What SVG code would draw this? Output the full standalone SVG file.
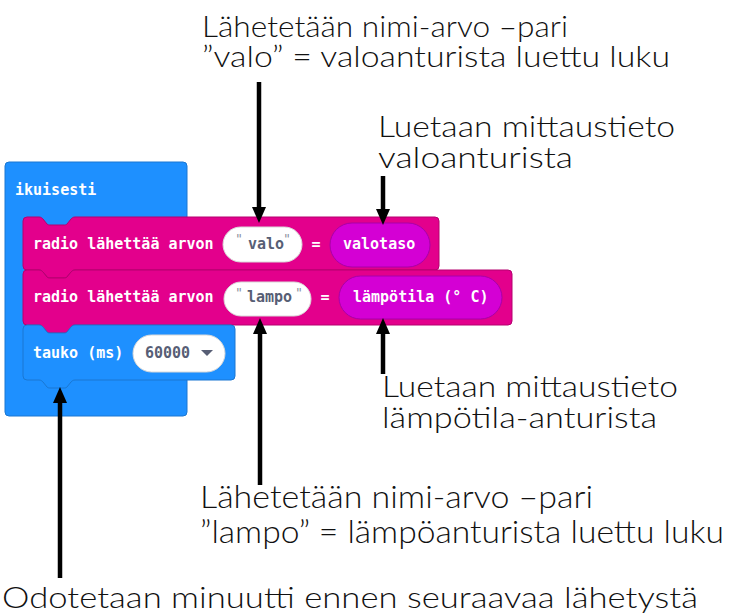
<svg xmlns="http://www.w3.org/2000/svg" width="730" height="615" viewBox="0 0 730 615">
  <style>
    .blk { font-family: "DejaVu Sans Mono", "Liberation Mono", monospace; font-weight: bold; font-size: 15px; fill: #ffffff; }
    .str { font-family: "DejaVu Sans Mono", "Liberation Mono", monospace; font-weight: bold; font-size: 15px; fill: #575E75; }
    .q { font-family: "DejaVu Sans", sans-serif; font-size: 13px; fill: #8a8f9e; }
    .ann { font-family: "Lato", "Open Sans", sans-serif; font-weight: 300; font-size: 30px; fill: #111111; }
    .blue { fill: #1E90FF; stroke: #1a77d2; stroke-width: 1; }
    .pink { fill: #E3008C; stroke: #b5006f; stroke-width: 1; }
    .val { fill: #D400D4; stroke: #a800a8; stroke-width: 1; }
    .pill { fill: #ffffff; stroke: #d8d8d8; stroke-width: 1; }
    .arr { stroke: #000000; stroke-width: 4.5; fill: none; marker-end: url(#ah); }
  </style>
  <defs>
    <marker id="ah" markerUnits="userSpaceOnUse" viewBox="0 0 16 14" markerWidth="16" markerHeight="14" refX="1" refY="7" orient="auto">
      <path d="M0,0 L16,7 L0,14 Z" fill="#000000"/>
    </marker>
  </defs>

  <g id="ikuisesti">
    <rect class="blue" x="5" y="162" width="182" height="254" rx="4"/>
    <text class="blk" x="15" y="195">ikuisesti</text>
  </g>

  <g id="radio-valo">
    <path class="pink" d="M23,221 a4,4 0 0 1 4,-4 H39 c2,0 3,1 4,2 l4,5 c1,1 2,1 4,1 h12 c2,0 3,0 4,-1 l4,-5 c1,-1 2,-2 4,-2 H435 a4,4 0 0 1 4,4 V266 a4,4 0 0 1 -4,4 H75 c-2,0 -3,1 -4,2 l-4,5 c-1,1 -2,1 -4,1 h-12 c-2,0 -3,0 -4,-1 l-4,-5 c-1,-1 -2,-2 -4,-2 H27 a4,4 0 0 1 -4,-4 Z"/>
    <text class="blk" x="33" y="249">radio lähettää arvon</text>
    <rect class="pill" x="223" y="227" width="79" height="35" rx="17.5"/>
    <text class="q" x="236" y="243">"</text>
    <text class="str" x="248" y="249">valo</text>
    <text class="q" x="284" y="243">"</text>
    <text class="blk" x="316" y="249" text-anchor="middle">=</text>
    <rect class="val" x="330" y="223" width="100" height="44" rx="22"/>
    <text class="blk" x="343" y="249">valotaso</text>
  </g>

  <g id="radio-lampo">
    <path class="pink" d="M23,274 a4,4 0 0 1 4,-4 H39 c2,0 3,1 4,2 l4,5 c1,1 2,1 4,1 h12 c2,0 3,0 4,-1 l4,-5 c1,-1 2,-2 4,-2 H508 a4,4 0 0 1 4,4 V321 a4,4 0 0 1 -4,4 H75 c-2,0 -3,1 -4,2 l-4,5 c-1,1 -2,1 -4,1 h-12 c-2,0 -3,0 -4,-1 l-4,-5 c-1,-1 -2,-2 -4,-2 H27 a4,4 0 0 1 -4,-4 Z"/>
    <text class="blk" x="33" y="302">radio lähettää arvon</text>
    <rect class="pill" x="224" y="282" width="87" height="34" rx="17"/>
    <text class="q" x="236" y="297">"</text>
    <text class="str" x="247" y="302">lampo</text>
    <text class="q" x="296" y="297">"</text>
    <text class="blk" x="325" y="302" text-anchor="middle">=</text>
    <rect class="val" x="339" y="276" width="163" height="43" rx="21.5"/>
    <text class="blk" x="353" y="302">lämpötila (° C)</text>
  </g>

  <g id="tauko">
    <path class="blue" d="M23,329 a4,4 0 0 1 4,-4 H39 c2,0 3,1 4,2 l4,5 c1,1 2,1 4,1 h12 c2,0 3,0 4,-1 l4,-5 c1,-1 2,-2 4,-2 H231 a4,4 0 0 1 4,4 V376 a4,4 0 0 1 -4,4 H75 c-2,0 -3,1 -4,2 l-4,5 c-1,1 -2,1 -4,1 h-12 c-2,0 -3,0 -4,-1 l-4,-5 c-1,-1 -2,-2 -4,-2 H27 a4,4 0 0 1 -4,-4 Z"/>
    <text class="blk" x="33" y="358">tauko (ms)</text>
    <rect class="pill" x="133" y="335" width="92" height="37" rx="18.5"/>
    <text class="str" x="145" y="358">60000</text>
    <path d="M201,350 L213,350 L207,356 Z" fill="#575E75"/>
  </g>

  <g id="connectors">
    <line class="arr" x1="259" y1="82" x2="259" y2="208"/>
    <line class="arr" x1="383" y1="176" x2="383" y2="210"/>
    <line class="arr" x1="260" y1="485" x2="260" y2="333"/>
    <line class="arr" x1="383" y1="374" x2="383" y2="333"/>
    <line class="arr" x1="60" y1="578" x2="60" y2="402"/>
  </g>

  <g id="label-valo-pari">
    <text class="ann" x="202" y="37" textLength="366" lengthAdjust="spacingAndGlyphs">Lähetetään nimi-arvo –pari</text>
    <text class="ann" x="202" y="67" textLength="468" lengthAdjust="spacingAndGlyphs">”valo” = valoanturista luettu luku</text>
  </g>
  <g id="label-valoanturi">
    <text class="ann" x="378" y="137" textLength="297" lengthAdjust="spacingAndGlyphs">Luetaan mittaustieto</text>
    <text class="ann" x="378" y="168" textLength="195" lengthAdjust="spacingAndGlyphs">valoanturista</text>
  </g>
  <g id="label-lampoanturi">
    <text class="ann" x="382" y="397" textLength="296" lengthAdjust="spacingAndGlyphs">Luetaan mittaustieto</text>
    <text class="ann" x="382" y="428" textLength="275" lengthAdjust="spacingAndGlyphs">lämpötila-anturista</text>
  </g>
  <g id="label-lampo-pari">
    <text class="ann" x="200" y="508" style="font-size:32px" textLength="393" lengthAdjust="spacingAndGlyphs">Lähetetään nimi-arvo –pari</text>
    <text class="ann" x="200" y="543" style="font-size:32px" textLength="524" lengthAdjust="spacingAndGlyphs">”lampo” = lämpöanturista luettu luku</text>
  </g>
  <g id="label-tauko">
    <text class="ann" x="2" y="608" textLength="696" lengthAdjust="spacingAndGlyphs">Odotetaan minuutti ennen seuraavaa lähetystä</text>
  </g>
</svg>
